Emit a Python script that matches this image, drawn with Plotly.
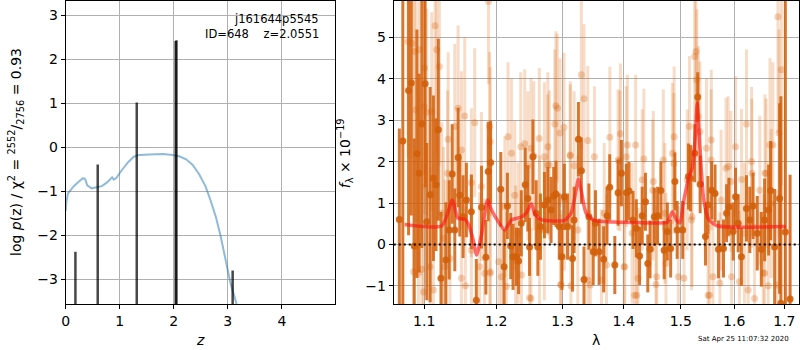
import math
import plotly.graph_objects as go

# ---------------- left panel data: log p(z) ----------------
pz_z = [0.00, 0.01, 0.04, 0.09, 0.15, 0.24, 0.32, 0.36, 0.40, 0.48, 0.57, 0.67, 0.76, 0.82,
        0.86, 0.89, 0.94, 1.03, 1.16, 1.26, 1.36, 1.55, 1.80, 1.98, 2.10, 2.23, 2.35, 2.47,
        2.59, 2.68, 2.78, 2.87, 2.96, 3.05, 3.16, 3.30]
pz_logp = [-1.45, -1.27, -1.05, -0.97, -0.88, -0.78, -0.70, -0.72, -0.86, -0.93, -0.91, -0.88,
           -0.80, -0.73, -0.68, -0.73, -0.69, -0.53, -0.33, -0.21, -0.17, -0.16, -0.15, -0.17,
           -0.20, -0.27, -0.40, -0.61, -0.89, -1.20, -1.58, -2.03, -2.56, -3.09, -3.55, -4.40]

peak_z = [0.180, 0.593, 1.315, 2.035, 2.050, 3.090]
peak_logp = [-2.37, -0.39, 1.02, 2.42, 2.44, -2.80]

z_ticks = [0, 1, 2, 3, 4]
logp_ticks = [-3, -2, -1, 0, 1, 2, 3]

# ---------------- right panel data: spectrum ----------------
dark_wave = [1.0675, 1.0720, 1.0795, 1.0830, 1.0869, 1.0904, 1.0934, 1.0969, 1.1013, 1.1035,
             1.1080, 1.1124, 1.1159, 1.1190, 1.1226, 1.1293, 1.1338, 1.1379, 1.1415, 1.1461,
             1.1484, 1.1530, 1.1576, 1.1646, 1.1716, 1.1790, 1.1852, 1.1885, 1.1920,
             1.2067, 1.2115, 1.2164, 1.2213, 1.2247, 1.2296, 1.2330, 1.2370, 1.2429, 1.2469,
             1.2494, 1.2545, 1.2595, 1.2620, 1.2660, 1.2721, 1.2773, 1.2823, 1.2864, 1.2900,
             1.2951, 1.2993, 1.3030, 1.3081, 1.3160, 1.3185, 1.3254, 1.3301, 1.3344, 1.3423,
             1.3493, 1.3530,
             1.3590, 1.3665, 1.3720, 1.3765, 1.3850, 1.3905, 1.3961, 1.4045, 1.4090, 1.4158,
             1.4215, 1.4271, 1.4316, 1.4373, 1.4413, 1.4453, 1.4528, 1.4585, 1.4643, 1.4701,
             1.4758, 1.4817, 1.4893, 1.4934, 1.5034, 1.5139, 1.5175, 1.5255, 1.5310, 1.5355,
             1.5454, 1.5500, 1.5570, 1.5634, 1.5698, 1.5794, 1.5853, 1.5898, 1.5980, 1.6026,
             1.6077, 1.6140, 1.6239, 1.6304, 1.6369, 1.6452, 1.6533, 1.6599, 1.6679, 1.6719,
             1.6801, 1.6902, 1.6928, 1.7020, 1.7118]
dark_flux = [0.60, 2.50, 3.72, 3.90, -0.04, 2.19, 1.72, 2.91, 3.88, 0.55,
             1.20, 1.60, 1.44, 2.77, -0.82, -0.38, 0.35, 1.70, 0.35, 2.10,
             1.19, 0.67, 1.07, 0.79, -1.35, 0.90, -0.31, 1.76, 1.98,
             1.33, -0.54, 0.93, -0.04, -0.30, -0.30, -0.40, 0.51, 1.44, 1.11,
             -0.06, 2.12, 0.75, -0.06, 0.43, 0.95, 1.07, 0.83, 1.17, 1.22,
             0.43, -0.30, 1.15, 0.43, -0.34, 0.59, 2.54, 1.78, -0.85, 0.67,
             -0.18, 0.51,
             -0.18, -0.36, 0.69, 1.38, -0.50, 1.25, 1.72, 1.25, 1.29, 0.59,
             0.39, -0.28, 0.69, 1.03, -0.46, -0.12, 0.67, 0.69, 1.30, -0.14,
             0.31, -0.10, 1.52, 0.35, 0.35, 1.64, 1.60, 2.20, 3.56, 1.45,
             0.19, 0.95, 1.31, 1.23, -0.12, -0.10, 0.75, 0.91, 0.31, 1.15,
             0.51, -0.30, 0.87, 0.59, 0.93, 0.27, -0.12, 0.59, 0.83, 1.30,
             -0.06, 1.11, -1.42, 0.30, -1.32]
dark_err = [2.2, 4.0, 3.5, 3.2, 2.6, 3.0, 2.4, 3.0, 2.5, 1.9,
            2.6, 2.0, 1.6, 2.2, 1.6, 1.4, 1.2, 1.2, 1.0, 1.2,
            1.0, 1.0, 0.9, 0.9, 1.0, 1.0, 0.9, 1.2, 1.0,
            0.9, 0.9, 0.8, 0.8, 0.8, 0.7, 0.8, 0.8, 0.9, 0.8,
            0.7, 0.9, 0.8, 0.7, 0.8, 0.8, 0.8, 0.8, 0.7, 0.8,
            0.8, 0.8, 0.8, 0.8, 0.8, 0.8, 0.9, 0.8, 0.8, 0.8,
            0.8, 0.8,
            0.8, 0.8, 0.7, 0.8, 0.7, 0.8, 0.8, 0.7, 0.7, 0.7,
            0.7, 0.7, 0.7, 0.7, 0.7, 0.7, 0.7, 0.7, 0.7, 0.7,
            0.7, 0.7, 0.7, 0.7, 0.7, 0.8, 0.8, 0.7, 0.6, 0.7,
            0.7, 0.7, 0.7, 0.7, 0.7, 0.7, 0.7, 0.7, 0.7, 0.7,
            0.7, 0.7, 0.8, 0.8, 0.8, 0.9, 0.9, 1.0, 1.1, 1.2,
            1.4, 2.3, 5.0, 6.0, 3.0]

light_wave = [1.0788, 1.0839, 1.0869, 1.0934, 1.1004, 1.1146, 1.1168, 1.1204, 1.0891, 1.1000,
              1.1035, 1.1101, 1.1324, 1.1315, 1.1415, 1.1461, 1.1507, 1.1553, 1.1646, 1.1693,
              1.1788, 1.1890, 1.1906, 1.1915, 1.1237, 1.1260, 1.0860, 1.0925, 1.0969, 1.0991,
              1.1080, 1.1124, 1.1281, 1.1348, 1.1507, 1.1562, 1.1646, 1.1762, 1.1831, 1.1915,
              1.2038, 1.2077, 1.2174, 1.2150, 1.2223, 1.2272, 1.2285, 1.2362, 1.2372, 1.2422,
              1.2469, 1.2494, 1.2558, 1.2645, 1.2721, 1.2773, 1.2797, 1.2881, 1.2897, 1.2921,
              1.2963, 1.2973, 1.3025, 1.3125, 1.3135, 1.3185, 1.3245, 1.3301, 1.3344, 1.3405,
              1.3446,
              1.3628, 1.3767, 1.3712, 1.3905, 1.3944, 1.4017, 1.4045, 1.4062, 1.4186, 1.4203,
              1.4244, 1.4316, 1.4500, 1.4556, 1.4733, 1.4850, 1.4880, 1.5058, 1.5117, 1.5158,
              1.5205, 1.5253, 1.5277, 1.5293,
              1.5322, 1.5351, 1.5472, 1.5502, 1.5563, 1.5594, 1.5725, 1.5885, 1.5936, 1.5949,
              1.6026, 1.6142, 1.6239, 1.6272, 1.6338, 1.6503, 1.6570, 1.6605, 1.6672, 1.6706,
              1.6843, 1.6890, 1.6869, 1.6938,
              1.2516, 1.2642, 1.2771, 1.3124, 1.3513, 1.3935, 1.4345, 1.4510, 1.4686, 1.4874,
              1.5560, 1.5842, 1.6346, 1.6630, 1.6765,
              1.1910, 1.2516, 1.2978, 1.3406, 1.4005, 1.4222, 1.4568, 1.4954, 1.5528, 1.6102,
              1.6398, 1.6598,
              1.2127, 1.2719, 1.3674, 1.4714, 1.5194, 1.5749, 1.6199, 1.6732, 1.4142, 1.3031,
              1.2322]
light_flux = [4.90, 4.86, 4.66, 4.70, 4.26, 5.28, 4.70, 4.30, 3.25, 3.33,
              3.19, 3.21, 2.54, 1.72, 2.85, 3.29, 2.28, 3.10, 1.49, 2.94,
              1.40, 5.87, 2.85, 2.48, 0.75, 0.15, -0.66, -0.70, -0.60, -1.15,
              -0.54, -1.10, -0.54, -0.34, -0.82, -1.00, -0.14, -0.54, -0.70, -0.66,
              -0.42, -0.78, 2.60, -1.02, 2.20, 1.19, -0.38, 2.36, -0.74, 2.43,
              1.90, -1.29, 2.14, 0.35, 2.12, 2.36, 1.92, 2.91, 3.35, 3.29,
              2.69, -0.97, 2.83, 2.14, -1.00, 1.90, 0.35, 4.10, 3.52, 2.51,
              -0.98,
              -0.86, 2.59, -0.50, 2.04, 2.67, -0.54, 2.12, 2.40, -1.23, 2.40,
              -0.82, 1.56, 1.31, -0.97, -0.46, 2.20, 2.60, -0.82, 1.56, 2.85,
              0.67, 4.54, 4.66, 3.98,
              3.09, 2.72, 2.32, -1.23, 2.52, -0.78, -0.93, 1.88, 1.52, -0.78,
              2.36, 1.57, 2.91, -1.10, 2.00, 1.31, -0.69, 1.72, -1.00, 2.40,
              -0.98, 2.69, 5.50, 4.22,
              2.32, 2.56, 1.92, 2.16, 2.12, 2.02, 2.06, 1.52, 2.04, 1.96,
              2.04, 1.84, 1.72, 1.72, 2.40,
              -0.70, -1.31, -0.98, -0.86, -0.54, -1.23, -0.78, -0.78, -1.23, -0.90,
              -1.31, -0.70,
              0.91, 0.35, 0.75, 0.75, 0.59, 1.07, 0.27, 0.99, 0.27, 1.07,
              0.27]
light_err = [2.8, 2.8, 2.7, 2.7, 2.6, 2.6, 2.5, 2.4, 2.7, 2.6,
             2.5, 2.4, 2.1, 2.0, 2.0, 2.0, 1.9, 1.9, 1.8, 1.8,
             1.8, 2.0, 1.8, 1.8, 2.2, 2.2, 2.7, 2.7, 2.6, 2.6,
             2.4, 2.4, 2.1, 2.0, 1.9, 1.9, 1.8, 1.8, 1.8, 1.8,
             1.8, 1.8, 1.8, 1.8, 1.8, 1.8, 1.8, 1.8, 1.8, 1.8,
             1.8, 1.8, 1.8, 1.8, 1.8, 1.8, 1.8, 1.8, 1.8, 1.8,
             1.8, 1.8, 1.8, 1.8, 1.8, 1.8, 1.8, 1.8, 1.8, 1.8,
             1.8,
             1.7, 1.7, 1.7, 1.7, 1.7, 1.7, 1.7, 1.7, 1.7, 1.7,
             1.7, 1.7, 1.7, 1.7, 1.7, 1.7, 1.7, 1.7, 1.7, 1.7,
             1.7, 1.7, 1.7, 1.7,
             1.7, 1.7, 1.7, 1.7, 1.7, 1.7, 1.7, 1.7, 1.7, 1.7,
             1.7, 1.7, 1.8, 1.8, 1.8, 1.8, 1.9, 1.9, 2.0, 2.1,
             2.3, 2.5, 2.8, 2.8,
             1.7, 1.7, 1.7, 1.7, 1.7, 1.7, 1.7, 1.7, 1.7, 1.7,
             1.7, 1.7, 1.8, 1.8, 2.0,
             1.7, 1.7, 1.7, 1.7, 1.7, 1.7, 1.7, 1.7, 1.7, 1.7,
             1.8, 1.8,
             1.7, 1.7, 1.7, 1.7, 1.7, 1.7, 1.7, 1.8, 1.7, 1.7,
             1.7]

model_wave = [1.0744, 1.1237, 1.1382, 1.1455, 1.1556, 1.1603, 1.1673, 1.1720, 1.1790, 1.1876,
              1.1933, 1.2030, 1.2125, 1.2224, 1.2372, 1.2446, 1.2521, 1.2581, 1.2672, 1.3033,
              1.3138, 1.3207, 1.3254, 1.3308, 1.3378, 1.3512, 1.3840, 1.4697, 1.4758, 1.4847,
              1.4924, 1.4983, 1.5055, 1.5147, 1.5208, 1.5269, 1.5300, 1.5330, 1.5373, 1.5422,
              1.5515, 1.5673, 1.7029]
model_flux = [0.48, 0.45, 1.07, 0.64, 0.60, 0.49, 0.10, -0.26, 0.25, 1.07,
              0.83, 0.55, 0.35, 0.59, 0.66, 0.76, 0.98, 0.72, 0.60, 0.58,
              0.76, 1.23, 1.58, 1.23, 0.75, 0.58, 0.54, 0.52, 0.53, 0.79,
              0.58, 0.52, 1.07, 1.63, 1.84, 2.69, 3.41, 2.83, 1.86, 1.07,
              0.60, 0.45, 0.43]

wave_ticks = [1.1, 1.2, 1.3, 1.4, 1.5, 1.6, 1.7]
flux_ticks = [-1, 0, 1, 2, 3, 4, 5]

obj_name = "j161644p5545"
obj_id = 648
obj_z = 2.0551
chi2_num, chi2_den, chi2_red = 2552, 2756, 0.93
stamp = "Sat Apr 25 11:07:32 2020"

# ---------------- figure ----------------
W, H = 800, 350
FONT = "DejaVu Sans"
fig = go.Figure()

fig.add_trace(go.Scatter(x=pz_z, y=pz_logp, mode="lines",
                         line=dict(color="rgba(31,119,180,0.5)", width=2),
                         xaxis="x", yaxis="y", showlegend=False, hoverinfo="skip"))
lx, ly = [], []
for zz, pp in zip(peak_z, peak_logp):
    lx += [zz, zz, None]
    ly += [-10, pp, None]
fig.add_trace(go.Scatter(x=lx, y=ly, mode="lines",
                         line=dict(color="rgba(0,0,0,0.72)", width=2.5),
                         xaxis="x", yaxis="y", showlegend=False, hoverinfo="skip"))

fig.add_trace(go.Scatter(x=light_wave, y=light_flux, mode="markers",
                         marker=dict(size=7, color="rgba(217,95,2,0.28)"),
                         error_y=dict(type="data", array=light_err, color="rgba(217,95,2,0.22)",
                                      thickness=3, width=0),
                         xaxis="x2", yaxis="y2", showlegend=False, hoverinfo="skip"))
fig.add_trace(go.Scatter(x=dark_wave, y=dark_flux, mode="markers",
                         marker=dict(size=7, color="rgba(210,95,10,0.9)"),
                         error_y=dict(type="data", array=dark_err, color="rgba(210,95,10,0.85)",
                                      thickness=3, width=0),
                         xaxis="x2", yaxis="y2", showlegend=False, hoverinfo="skip"))
fig.add_trace(go.Scatter(x=model_wave, y=model_flux, mode="lines",
                         line=dict(color="rgba(255,20,20,0.62)", width=3.5, shape="spline", smoothing=0.6),
                         xaxis="x2", yaxis="y2", showlegend=False, hoverinfo="skip"))

axis_common = dict(showline=True, linecolor="black", linewidth=1, mirror=True,
                   ticks="outside", ticklen=4, tickcolor="black", tickwidth=1,
                   showgrid=True, gridcolor="#b0b0b0", gridwidth=1, zeroline=False,
                   tickfont=dict(family=FONT, size=14, color="black"))

y_dom = [46 / H, 349 / H]
fig.update_layout(
    width=W, height=H,
    margin=dict(l=0, r=0, t=0, b=0),
    paper_bgcolor="white", plot_bgcolor="white",
    showlegend=False,
    xaxis=dict(domain=[62 / W, 333 / W], range=[0, 4.99], tickvals=z_ticks, anchor="y", **axis_common),
    yaxis=dict(domain=y_dom, range=[-3.56, 3.33], tickvals=logp_ticks, anchor="x", **axis_common),
    xaxis2=dict(domain=[391.7 / W, 799 / W], type="log",
                range=[math.log10(1.0603), math.log10(1.7303)],
                tickvals=wave_ticks, ticktext=[f"{v:.1f}" for v in wave_ticks],
                anchor="y2", **axis_common),
    yaxis2=dict(domain=y_dom, range=[-1.44, 5.88], tickvals=flux_ticks, anchor="x2", **axis_common),
)

fig.add_shape(type="line", xref="x2 domain", x0=0, x1=1, yref="y2", y0=0, y1=0,
              line=dict(color="black", width=2, dash="2px,3px"), layer="above")

ann_font = dict(family=FONT, size=14, color="black")
annotations = [
    dict(text="<i>z</i>", x=197.5 / W, y=(H - 340) / H, xref="paper", yref="paper",
         showarrow=False, font=ann_font, xanchor="center", yanchor="middle"),
    dict(text="λ", x=595 / W, y=(H - 340) / H, xref="paper", yref="paper",
         showarrow=False, font=ann_font, xanchor="center", yanchor="middle"),
    dict(text=f"log <i>p</i>(z) / χ<sup>2</sup> = <sup>{chi2_num}</sup>/<sub>{chi2_den}</sub> = {chi2_red:.2f}",
         x=12 / W, y=(H - 152) / H, xref="paper", yref="paper", textangle=-90,
         showarrow=False, font=ann_font, xanchor="center", yanchor="middle"),
    dict(text="<i>f</i><sub>λ</sub> × 10<sup>−19</sup>",
         x=343 / W, y=(H - 153) / H, xref="paper", yref="paper", textangle=-90,
         showarrow=False, font=ann_font, xanchor="center", yanchor="middle"),
    dict(text=obj_name, x=319 / W, y=(H - 19) / H, xref="paper", yref="paper",
         showarrow=False, font=dict(family=FONT, size=11.5, color="black"),
         xanchor="right", yanchor="middle"),
    dict(text=f"ID={obj_id}\u00a0\u00a0\u00a0\u00a0z={obj_z:.4f}", x=319 / W, y=(H - 34) / H,
         xref="paper", yref="paper", showarrow=False,
         font=dict(family=FONT, size=11.5, color="black"), xanchor="right", yanchor="middle"),
    dict(text=stamp, x=743 / W, y=(H - 339) / H, xref="paper", yref="paper",
         showarrow=False, font=dict(family=FONT, size=7, color="black"),
         xanchor="center", yanchor="middle"),
]
fig.update_layout(annotations=annotations)

fig.write_html("out.html", config={"displayModeBar": False},
               post_script="document.body.style.margin='0';document.body.style.overflow='hidden';")
